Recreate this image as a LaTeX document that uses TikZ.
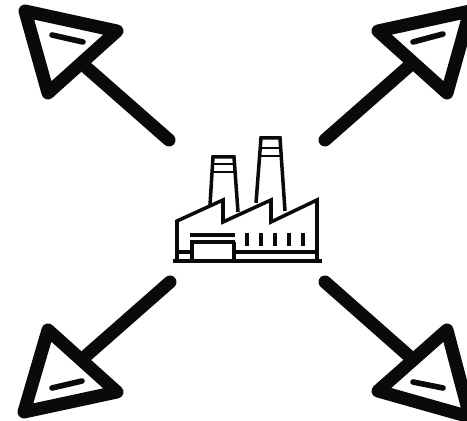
\documentclass[tikz,border=0pt]{standalone}
\usepackage{xcolor}
\usepackage{tikz}
\definecolor{InkBlack}{RGB}{10,10,10}
\tikzset{
	heavy/.style={InkBlack, line width=7.4pt, line cap=round, line join=round},
	dashmark/.style={InkBlack, line width=3.2pt, line cap=round},
	plant/.style={InkBlack, line width=2pt, line join=miter},
	plantthin/.style={InkBlack, line width=1.5pt},
	plantbar/.style={InkBlack, line width=2.6pt}
}

\begin{document}
\begin{tikzpicture}[x=0.02cm, y=-0.02cm]
		\useasboundingbox (0,0) rectangle (467,421);
		% shaft ends
		\coordinate (tlstart) at (169,140);
		\coordinate (tlend) at (87,68);
		\coordinate (trstart) at (325,140);
		\coordinate (trend) at (408,67);
		\coordinate (blstart) at (170,282);
		\coordinate (blend) at (87,355);
		\coordinate (brstart) at (325,282);
		\coordinate (brend) at (410,357);
		% arrows
		\draw[heavy] (tlstart) -- (tlend);
		\draw[heavy] (25,11) -- (117,31) -- (48,93) -- cycle;
		\draw[dashmark] (52,35) -- (83,42);
		\draw[heavy] (trstart) -- (trend);
		\draw[heavy] (470,11) -- (378,31) -- (447,93) -- cycle;
		\draw[dashmark] (413,42) -- (443,34);
		\draw[heavy] (blstart) -- (blend);
		\draw[heavy] (48,330) -- (117,392) -- (24,412) -- cycle;
		\draw[dashmark] (52,388) -- (82,381);
		\draw[heavy] (brstart) -- (brend);
		\draw[heavy] (447,330) -- (378,391) -- (470,417) -- cycle;
		\draw[dashmark] (413,382) -- (443,388);
		% factory
		\draw[plant] (173,261) -- (322,261);
		\draw[plant] (177,261) -- (177,221) -- (223,200) -- (223,222) -- (271,200) -- (271,222) -- (317,200) -- (317,261);
		\draw[plant] (210,205) -- (213,157) -- (234,157) -- (238,212);
		\draw[plant] (256,203) -- (261,138) -- (280,138) -- (285,211);
		\draw[plantthin] (212.5,164) -- (234.5,164);
		\draw[plantthin] (212,172) -- (235,172);
		\draw[plantthin] (260.5,148) -- (280.5,148);
		\draw[plantthin] (260,156) -- (281,156);
		\draw[plant] (190,235) -- (235,235);
		\draw[plant] (190,242) -- (235,242);
		\draw[plant] (192,242) -- (192,261);
		\draw[plant] (234,242) -- (234,261);
		\draw[plant] (177,252) -- (192,252);
		\draw[plant] (234,252) -- (317,252);
		\foreach \x in {247,261,275,289,303}
			\draw[plantbar] (\x,233) -- (\x,246);
	\end{tikzpicture}
\end{document}
